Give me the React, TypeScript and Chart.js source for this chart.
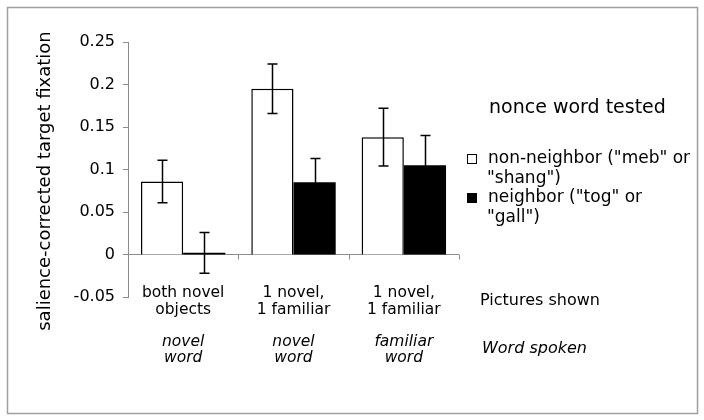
import React, { useEffect, useRef } from "react";
import { Chart, registerables } from "chart.js";

Chart.register(...registerables);

// ---- data ----
const categories = [
  "both novel objects / novel word",
  "1 novel, 1 familiar / novel word",
  "1 novel, 1 familiar / familiar word",
];
const picturesShown = [
  ["both novel", "objects"],
  ["1 novel,", "1 familiar"],
  ["1 novel,", "1 familiar"],
];
const wordSpoken = [
  ["novel", "word"],
  ["novel", "word"],
  ["familiar", "word"],
];
const nonNeighborValues = [0.086, 0.195, 0.138];
const nonNeighborErrors = [0.025, 0.029, 0.034];
const neighborValues = [0.002, 0.085, 0.105];
const neighborErrors = [0.024, 0.028, 0.035];
const yMin = -0.05;
const yMax = 0.25;
const yStep = 0.05;
const seriesLabels = [
  ['non-neighbor ("meb" or', '"shang")'],
  ['neighbor ("tog" or', '"gall")'],
];
const legendTitle = "nonce word tested";
const yTitle = "salience-corrected target fixation";
const rowTitles = ["Pictures shown", "Word spoken"];

const FONT = '"DejaVu Sans", Verdana, sans-serif';
const AXIS_GRAY = "#8c8c8c";

const decor = {
  id: "decor",
  beforeDraw(chart: any) {
    const ctx = chart.ctx;
    ctx.save();
    ctx.fillStyle = "#ffffff";
    ctx.fillRect(0, 0, chart.width, chart.height);
    ctx.strokeStyle = "#a0a0a0";
    ctx.lineWidth = 1.5;
    ctx.strokeRect(7.5, 7.5, 690, 406);
    ctx.restore();
  },
  beforeDatasetsDraw(chart: any) {
    const ctx = chart.ctx;
    const y = chart.scales.y;
    const area = chart.chartArea;
    const y0 = Math.round(y.getPixelForValue(0)) + 0.5;
    const n = categories.length;
    const w = (area.right - area.left) / n;
    ctx.save();
    ctx.strokeStyle = AXIS_GRAY;
    ctx.lineWidth = 1;
    ctx.beginPath();
    ctx.moveTo(area.left, y0);
    ctx.lineTo(area.right, y0);
    for (let k = 1; k <= n; k++) {
      const bx = Math.round(area.left + k * w) + 0.5;
      ctx.moveTo(bx, y0);
      ctx.lineTo(bx, y0 + 5);
    }
    ctx.stroke();
    ctx.restore();
  },
  afterDatasetsDraw(chart: any) {
    const ctx = chart.ctx;
    const y = chart.scales.y;
    const errs = [nonNeighborErrors, neighborErrors];
    const vals = [nonNeighborValues, neighborValues];
    ctx.save();
    ctx.strokeStyle = "#000";
    ctx.lineWidth = 1.5;
    for (let d = 0; d < 2; d++) {
      const meta = chart.getDatasetMeta(d);
      meta.data.forEach((bar: any, j: number) => {
        const cx = Math.round(bar.x) + 0.5;
        const top = y.getPixelForValue(vals[d][j] + errs[d][j]);
        const bot = y.getPixelForValue(vals[d][j] - errs[d][j]);
        ctx.beginPath();
        ctx.moveTo(cx, top);
        ctx.lineTo(cx, bot);
        ctx.moveTo(cx - 5, top);
        ctx.lineTo(cx + 5, top);
        ctx.moveTo(cx - 5, bot);
        ctx.lineTo(cx + 5, bot);
        ctx.stroke();
      });
    }
    ctx.restore();
  },
  afterDraw(chart: any) {
    const ctx = chart.ctx;
    const x = chart.scales.x;
    ctx.save();
    ctx.fillStyle = "#000";
    ctx.textBaseline = "middle";

    // y axis title
    ctx.save();
    ctx.translate(45, 181);
    ctx.rotate(-Math.PI / 2);
    ctx.textAlign = "center";
    ctx.font = `18px ${FONT}`;
    ctx.fillText(yTitle, 0, 0);
    ctx.restore();

    // category labels
    ctx.textAlign = "center";
    categories.forEach((_, i) => {
      const cx = x.getPixelForValue(i);
      ctx.font = `15.5px ${FONT}`;
      picturesShown[i].forEach((t, k) => ctx.fillText(t, cx, 293 + k * 17));
      ctx.font = `italic 15.5px ${FONT}`;
      wordSpoken[i].forEach((t, k) => ctx.fillText(t, cx, 342 + k * 16));
    });

    // row titles
    ctx.textAlign = "left";
    ctx.font = `16px ${FONT}`;
    ctx.fillText(rowTitles[0], 480, 301);
    ctx.font = `italic 16px ${FONT}`;
    ctx.fillText(rowTitles[1], 482, 349);

    // legend
    ctx.font = `19px ${FONT}`;
    ctx.fillText(legendTitle, 489, 108);
    ctx.font = `17px ${FONT}`;
    const fills = ["#ffffff", "#000000"];
    seriesLabels.forEach((lines, s) => {
      const baseY = 159 + s * 39;
      ctx.fillStyle = fills[s];
      ctx.fillRect(467.5, baseY - 4.5, 9, 9);
      ctx.strokeStyle = "#000";
      ctx.lineWidth = 1;
      ctx.strokeRect(467.5, baseY - 4.5, 9, 9);
      ctx.fillStyle = "#000";
      ctx.fillText(lines[0], 488, baseY);
      ctx.fillText(lines[1], 487, baseY + 19.5);
    });
    ctx.restore();
  },
};

export default function App() {
  const ref = useRef<HTMLCanvasElement | null>(null);
  useEffect(() => {
    if (!ref.current) return;
    const chart = new Chart(ref.current, {
      type: "bar",
      data: {
        labels: categories,
        datasets: [
          {
            label: seriesLabels[0].join(" "),
            data: nonNeighborValues,
            backgroundColor: "#ffffff",
            borderColor: "#000000",
            borderWidth: 1.5,
            barPercentage: 1,
            categoryPercentage: 0.765,
          },
          {
            label: seriesLabels[1].join(" "),
            data: neighborValues,
            backgroundColor: "#000000",
            borderColor: "#000000",
            borderWidth: 0,
            barPercentage: 1,
            categoryPercentage: 0.765,
          },
        ],
      },
      options: {
        responsive: false,
        animation: false,
        devicePixelRatio: 1,
        layout: { padding: { left: 0, top: 42, right: 245, bottom: 123 } },
        plugins: { legend: { display: false }, tooltip: { enabled: false } },
        scales: {
          x: { display: false },
          y: {
            min: yMin,
            max: yMax,
            afterFit: (s: any) => {
              s.width = 128;
            },
            ticks: {
              stepSize: yStep,
              color: "#000",
              padding: 8,
              font: { family: FONT, size: 16 },
              callback: (v: any) => String(parseFloat(Number(v).toFixed(2))),
            },
            grid: {
              display: true,
              drawOnChartArea: false,
              drawTicks: true,
              tickLength: 5,
              color: AXIS_GRAY,
            },
            border: { display: true, color: AXIS_GRAY },
          },
        },
      },
      plugins: [decor],
    });
    return () => chart.destroy();
  }, []);
  return (
    <div style={{ position: "absolute", left: 0, top: 0, width: 704, height: 420 }}>
      <canvas ref={ref} width={704} height={420} style={{ display: "block" }} />
    </div>
  );
}
